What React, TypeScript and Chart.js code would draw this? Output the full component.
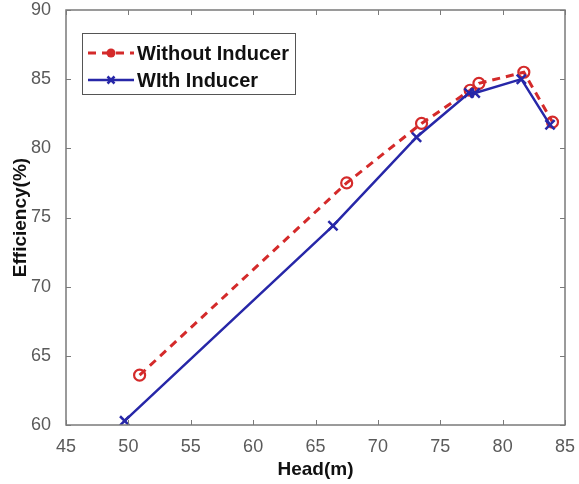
import React, { useEffect, useRef } from "react";
import { Chart, registerables } from "chart.js";

Chart.register(...registerables);

const headWithout = [50.9, 67.5, 73.5, 77.4, 78.1, 81.7, 84.0];
const effWithout = [63.6, 77.5, 81.8, 84.2, 84.7, 85.5, 81.9];
const headWith = [49.7, 66.4, 73.1, 77.3, 77.8, 81.5, 83.8];
const effWith = [60.3, 74.4, 80.8, 84.0, 84.0, 85.0, 81.7];
const seriesLabels = ["Without Inducer", "WIth Inducer"];
const xTitle = "Head(m)";
const yTitle = "Efficiency(%)";

const FONT = "'Liberation Sans', Arial, Helvetica, sans-serif";
const RED = "#d42a2a";
const BLUE = "#2727a8";
const AXIS = "#7a7a7a";

const boxPlugin = {
  id: "matlabBox",
  afterDraw(chart: any) {
    const { ctx, chartArea, scales } = chart;
    const { left, right, top, bottom } = chartArea;
    ctx.save();
    ctx.strokeStyle = AXIS;
    ctx.lineWidth = 1.5;
    ctx.strokeRect(left, top, right - left, bottom - top);
    const tl = 5;
    ctx.lineWidth = 1;
    ctx.beginPath();
    scales.x.ticks.forEach((t: any) => {
      const px = Math.round(scales.x.getPixelForValue(t.value)) + 0.5;
      ctx.moveTo(px, bottom);
      ctx.lineTo(px, bottom - tl);
      ctx.moveTo(px, top);
      ctx.lineTo(px, top + tl);
    });
    scales.y.ticks.forEach((t: any) => {
      const py = Math.round(scales.y.getPixelForValue(t.value)) + 0.5;
      ctx.moveTo(left, py);
      ctx.lineTo(left + tl, py);
      ctx.moveTo(right, py);
      ctx.lineTo(right - tl, py);
    });
    ctx.stroke();

    // legend
    const bx = 82, by = 33, bw = 213, bh = 61;
    ctx.fillStyle = "#ffffff";
    ctx.fillRect(bx, by, bw, bh);
    ctx.strokeStyle = "#555555";
    ctx.lineWidth = 1;
    ctx.strokeRect(bx + 0.5, by + 0.5, bw, bh);
    const rows = [53, 80];
    chart.data.datasets.forEach((ds: any, i: number) => {
      const y = rows[i];
      ctx.save();
      ctx.strokeStyle = ds.borderColor;
      ctx.lineWidth = ds.borderWidth;
      ctx.setLineDash(ds.borderDash || []);
      ctx.beginPath();
      ctx.moveTo(88, y);
      ctx.lineTo(134, y);
      ctx.stroke();
      ctx.restore();
      ctx.save();
      ctx.strokeStyle = ds.pointBorderColor;
      ctx.lineWidth = ds.pointBorderWidth;
      if (ds.pointStyle === "circle") {
        ctx.fillStyle = ds.pointBorderColor;
        ctx.beginPath();
        ctx.arc(111, y, 4.5, 0, Math.PI * 2);
        ctx.fill();
      } else {
        const r = 3.5;
        ctx.beginPath();
        ctx.moveTo(111 - r, y - r);
        ctx.lineTo(111 + r, y + r);
        ctx.moveTo(111 + r, y - r);
        ctx.lineTo(111 - r, y + r);
        ctx.stroke();
      }
      ctx.restore();
      ctx.fillStyle = "#111111";
      ctx.font = `bold 20px ${FONT}`;
      ctx.textBaseline = "middle";
      ctx.textAlign = "left";
      ctx.fillText(ds.label, 137, y + 1);
    });
    ctx.restore();
  },
};

export default function App() {
  const ref = useRef<HTMLCanvasElement | null>(null);
  useEffect(() => {
    if (!ref.current) return;
    const chart = new Chart(ref.current, {
      type: "scatter",
      data: {
        datasets: [
          {
            label: seriesLabels[0],
            data: headWithout.map((x, i) => ({ x, y: effWithout[i] })),
            showLine: true,
            borderColor: RED,
            borderWidth: 3,
            borderDash: [8, 6],
            pointStyle: "circle",
            pointRadius: 5.5,
            pointBorderWidth: 2.2,
            pointBorderColor: RED,
            pointBackgroundColor: "rgba(255,255,255,0)",
            order: 1,
          } as any,
          {
            label: seriesLabels[1],
            data: headWith.map((x, i) => ({ x, y: effWith[i] })),
            showLine: true,
            borderColor: BLUE,
            borderWidth: 2.5,
            pointStyle: "crossRot",
            pointRadius: 6.5,
            pointBorderWidth: 2.5,
            pointBorderColor: BLUE,
            pointBackgroundColor: BLUE,
            order: 0,
          } as any,
        ],
      },
      options: {
        animation: false,
        responsive: false,
        layout: { padding: { top: 10, right: 14, left: 0, bottom: 0 } },
        plugins: { legend: { display: false }, tooltip: { enabled: false } },
        scales: {
          x: {
            type: "linear",
            min: 45,
            max: 85,
            grid: { display: false },
            border: { display: false },
            ticks: { stepSize: 5, color: "#5a5a5a", font: { family: FONT, size: 18 }, padding: 3 },
            title: {
              display: true,
              text: xTitle,
              color: "#111111",
              font: { family: FONT, size: 19, weight: "bold" },
              padding: { top: 0, bottom: 3 },
            },
            afterFit: (s: any) => {
              s.height = 59;
              s.paddingLeft = 0;
              s.paddingRight = 0;
            },
          },
          y: {
            type: "linear",
            min: 60,
            max: 90,
            grid: { display: false },
            border: { display: false },
            ticks: { stepSize: 5, color: "#5a5a5a", font: { family: FONT, size: 18 }, padding: 7 },
            title: {
              display: true,
              text: yTitle,
              color: "#111111",
              font: { family: FONT, size: 19, weight: "bold" },
              padding: { top: 9, bottom: 0 },
            },
            afterFit: (s: any) => {
              s.width = 66;
              s.paddingTop = 0;
              s.paddingBottom = 0;
            },
          },
        },
      } as any,
      plugins: [boxPlugin],
    });
    return () => chart.destroy();
  }, []);
  return (
    <div style={{ position: "absolute", left: 0, top: 0, width: 579, height: 484, background: "#fff" }}>
      <canvas ref={ref} width={579} height={484} style={{ width: 579, height: 484, display: "block" }} />
    </div>
  );
}
